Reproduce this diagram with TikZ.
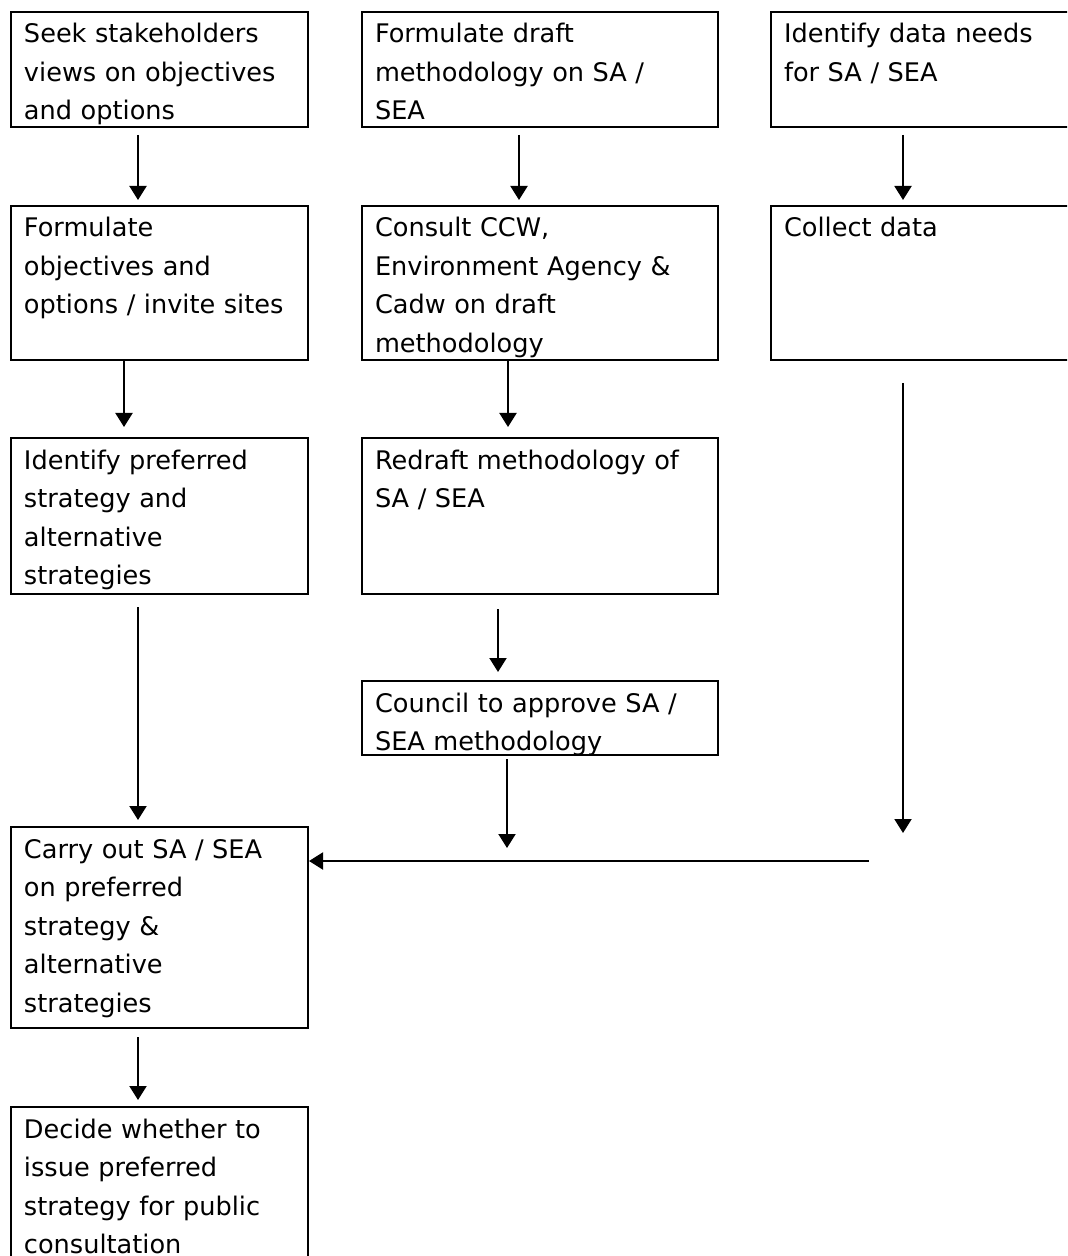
\documentclass[tikz,border=0pt]{standalone}
\usepackage{fontspec}
\setmainfont{DejaVu Sans}
\usepackage{tikz}
\usetikzlibrary{arrows.meta}

\tikzset{
  stepbox/.style={draw, line width=1pt, anchor=north west, align=left,
    inner xsep=6.5pt, inner ysep=5.5pt, text height=10pt, text depth=#1,
    font=\fontsize{12.8pt}{19.25pt}\selectfont},
  arr/.style={-{Triangle[length=7pt,width=8.5pt]}, line width=1pt},
}

\begin{document}
\begin{tikzpicture}[x=0.5pt, y=-0.5pt]
\useasboundingbox (0,0) rectangle (1067,1256);
\clip (0,0) rectangle (1067,1256);
% ---- LEFT column ----
\node[stepbox=36.5pt, text width=135.5pt] (b1) at (10,11)
  {Seek stakeholders\\views on objectives\\and options};
\node[stepbox=56pt, text width=135.5pt] (b2) at (10,205)
  {Formulate\\objectives and\\options / invite sites};
\node[stepbox=57pt, text width=135.5pt] (b3) at (10,437)
  {Identify preferred\\strategy and\\alternative\\strategies};
\node[stepbox=79.5pt, text width=135.5pt] (b4) at (10,826)
  {Carry out SA / SEA\\on preferred\\strategy \&\\alternative\\strategies};
\node[stepbox=64pt, text width=135.5pt] (b5) at (10,1106)
  {Decide whether to\\issue preferred\\strategy for public\\consultation};
% ---- MIDDLE column ----
\node[stepbox=36.5pt, text width=165pt] (c1) at (361,11)
  {Formulate draft\\methodology on SA /\\SEA};
\node[stepbox=56pt, text width=165pt] (c2) at (361,205)
  {Consult CCW,\\Environment Agency \&\\Cadw on draft\\methodology};
\node[stepbox=57pt, text width=165pt] (c3) at (361,437)
  {Redraft methodology of\\SA / SEA};
\node[stepbox=16pt, text width=165pt] (c4) at (361,680)
  {Council to approve SA /\\SEA methodology};
% ---- RIGHT column (runs off the page) ----
\node[stepbox=36.5pt, text width=142pt] (d1) at (770,11)
  {Identify data needs\\for SA / SEA};
\node[stepbox=56pt, text width=142pt] (d2) at (770,205)
  {Collect data};
% free ends
\coordinate (cend) at (507,848);
\coordinate (dend) at (903,833);
\coordinate (hstart) at (869,861);
% ---- arrows ----
\draw[arr, shorten <=3.5pt, shorten >=2.5pt] ([xshift=-10.75pt]b1.south) -- ([xshift=-10.75pt]b2.north);
\draw[arr, shorten >=5pt] ([xshift=-17.75pt]b2.south) -- ([xshift=-17.75pt]b3.north);
\draw[arr, shorten <=6pt, shorten >=3pt] ([xshift=-10.75pt]b3.south) -- ([xshift=-10.75pt]b4.north);
\draw[arr, shorten <=4pt, shorten >=3pt] ([xshift=-10.75pt]b4.south) -- ([xshift=-10.75pt]b5.north);
\draw[arr, shorten <=3.5pt, shorten >=2.5pt] ([xshift=-10.5pt]c1.south) -- ([xshift=-10.5pt]c2.north);
\draw[arr, shorten >=5pt] ([xshift=-16pt]c2.south) -- ([xshift=-16pt]c3.north);
\draw[arr, shorten <=7pt, shorten >=4pt] ([xshift=-21pt]c3.south) -- ([xshift=-21pt]c4.north);
\draw[arr, shorten <=1.5pt] (c4.south -| cend) -- (cend);
\draw[arr, shorten <=3.5pt, shorten >=2.5pt] (d1.south -| dend) -- (d2.north -| dend);
\draw[arr, shorten <=11pt] (d2.south -| dend) -- (dend);
% feed into SA / SEA
\draw[arr] (hstart) -- (hstart -| b4.east);
\end{tikzpicture}
\end{document}
